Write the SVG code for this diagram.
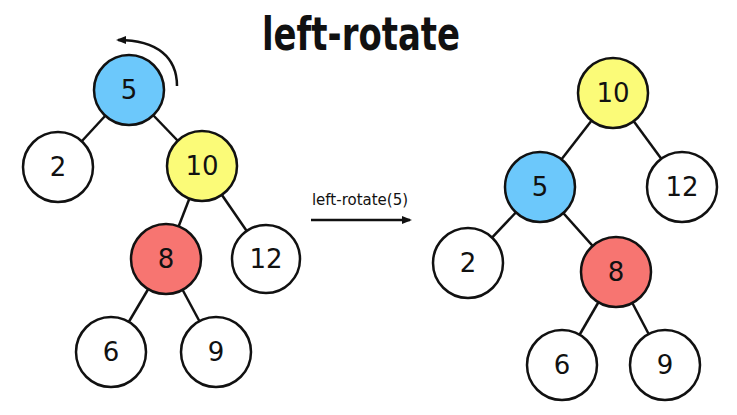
<svg xmlns="http://www.w3.org/2000/svg" width="737" height="415" viewBox="0 0 737 415">
<defs>
<style>
.n{stroke:#111;stroke-width:2.5}
.w{fill:#fff}
.b{fill:#6cc8fb}
.y{fill:#fbfb78}
.r{fill:#f77571}
.t{font-family:"DejaVu Sans","Noto Sans",sans-serif;font-size:26px;fill:#111;text-anchor:middle}
.e{stroke:#111;stroke-width:2.5;fill:none}
.title{font-family:"DejaVu Sans Condensed","Liberation Sans",sans-serif;font-weight:bold;font-size:46px;fill:#111;text-anchor:middle}
.lbl{font-family:"DejaVu Sans","Noto Sans",sans-serif;font-size:15px;fill:#111;text-anchor:middle}
</style>
<marker id="ah" markerWidth="10" markerHeight="10" refX="8" refY="5" orient="auto" markerUnits="userSpaceOnUse">
<path d="M0,1 L10,5 L0,9 Z" fill="#111"/>
</marker>
</defs>
<rect width="737" height="415" fill="#fff"/>
<text class="title" x="361" y="50" textLength="198" lengthAdjust="spacingAndGlyphs">left-rotate</text>
<g id="connectors">
<line class="e" x1="129" y1="90" x2="58" y2="167"/>
<line class="e" x1="129" y1="90" x2="202" y2="166"/>
<line class="e" x1="202" y1="166" x2="166" y2="259"/>
<line class="e" x1="202" y1="166" x2="266" y2="259"/>
<line class="e" x1="166" y1="259" x2="111" y2="352"/>
<line class="e" x1="166" y1="259" x2="216" y2="352"/>
<line class="e" x1="613" y1="93" x2="540" y2="187"/>
<line class="e" x1="613" y1="93" x2="682" y2="187"/>
<line class="e" x1="540" y1="187" x2="468" y2="263"/>
<line class="e" x1="540" y1="187" x2="616" y2="272"/>
<line class="e" x1="616" y1="272" x2="562" y2="365"/>
<line class="e" x1="616" y1="272" x2="665" y2="365"/>
<path class="e" d="M177,86 C177,58 158,40 118,40" marker-end="url(#ah)"/>
<line class="e" x1="311" y1="220" x2="410" y2="220" marker-end="url(#ah)"/>
<text class="lbl" x="360" y="205">left-rotate(5)</text>
</g>
<g id="L5"><circle class="n b" cx="129" cy="90" r="35"/><text class="t" x="129" y="99">5</text></g>
<g id="L2"><circle class="n w" cx="58" cy="167" r="35"/><text class="t" x="58" y="176">2</text></g>
<g id="L10"><circle class="n y" cx="202" cy="166" r="35"/><text class="t" x="202" y="175">10</text></g>
<g id="L8"><circle class="n r" cx="166" cy="259" r="35"/><text class="t" x="166" y="268">8</text></g>
<g id="L12"><circle class="n w" cx="266" cy="259" r="34"/><text class="t" x="266" y="268">12</text></g>
<g id="L6"><circle class="n w" cx="111" cy="352" r="35"/><text class="t" x="111" y="361">6</text></g>
<g id="L9"><circle class="n w" cx="216" cy="352" r="35"/><text class="t" x="216" y="361">9</text></g>
<g id="R10"><circle class="n y" cx="613" cy="93" r="35"/><text class="t" x="613" y="102">10</text></g>
<g id="R5"><circle class="n b" cx="540" cy="187" r="35"/><text class="t" x="540" y="196">5</text></g>
<g id="R12"><circle class="n w" cx="682" cy="187" r="35"/><text class="t" x="682" y="196">12</text></g>
<g id="R2"><circle class="n w" cx="468" cy="263" r="35"/><text class="t" x="468" y="272">2</text></g>
<g id="R8"><circle class="n r" cx="616" cy="272" r="35"/><text class="t" x="616" y="281">8</text></g>
<g id="R6"><circle class="n w" cx="562" cy="365" r="35"/><text class="t" x="562" y="374">6</text></g>
<g id="R9"><circle class="n w" cx="665" cy="365" r="35"/><text class="t" x="665" y="374">9</text></g>
</svg>
